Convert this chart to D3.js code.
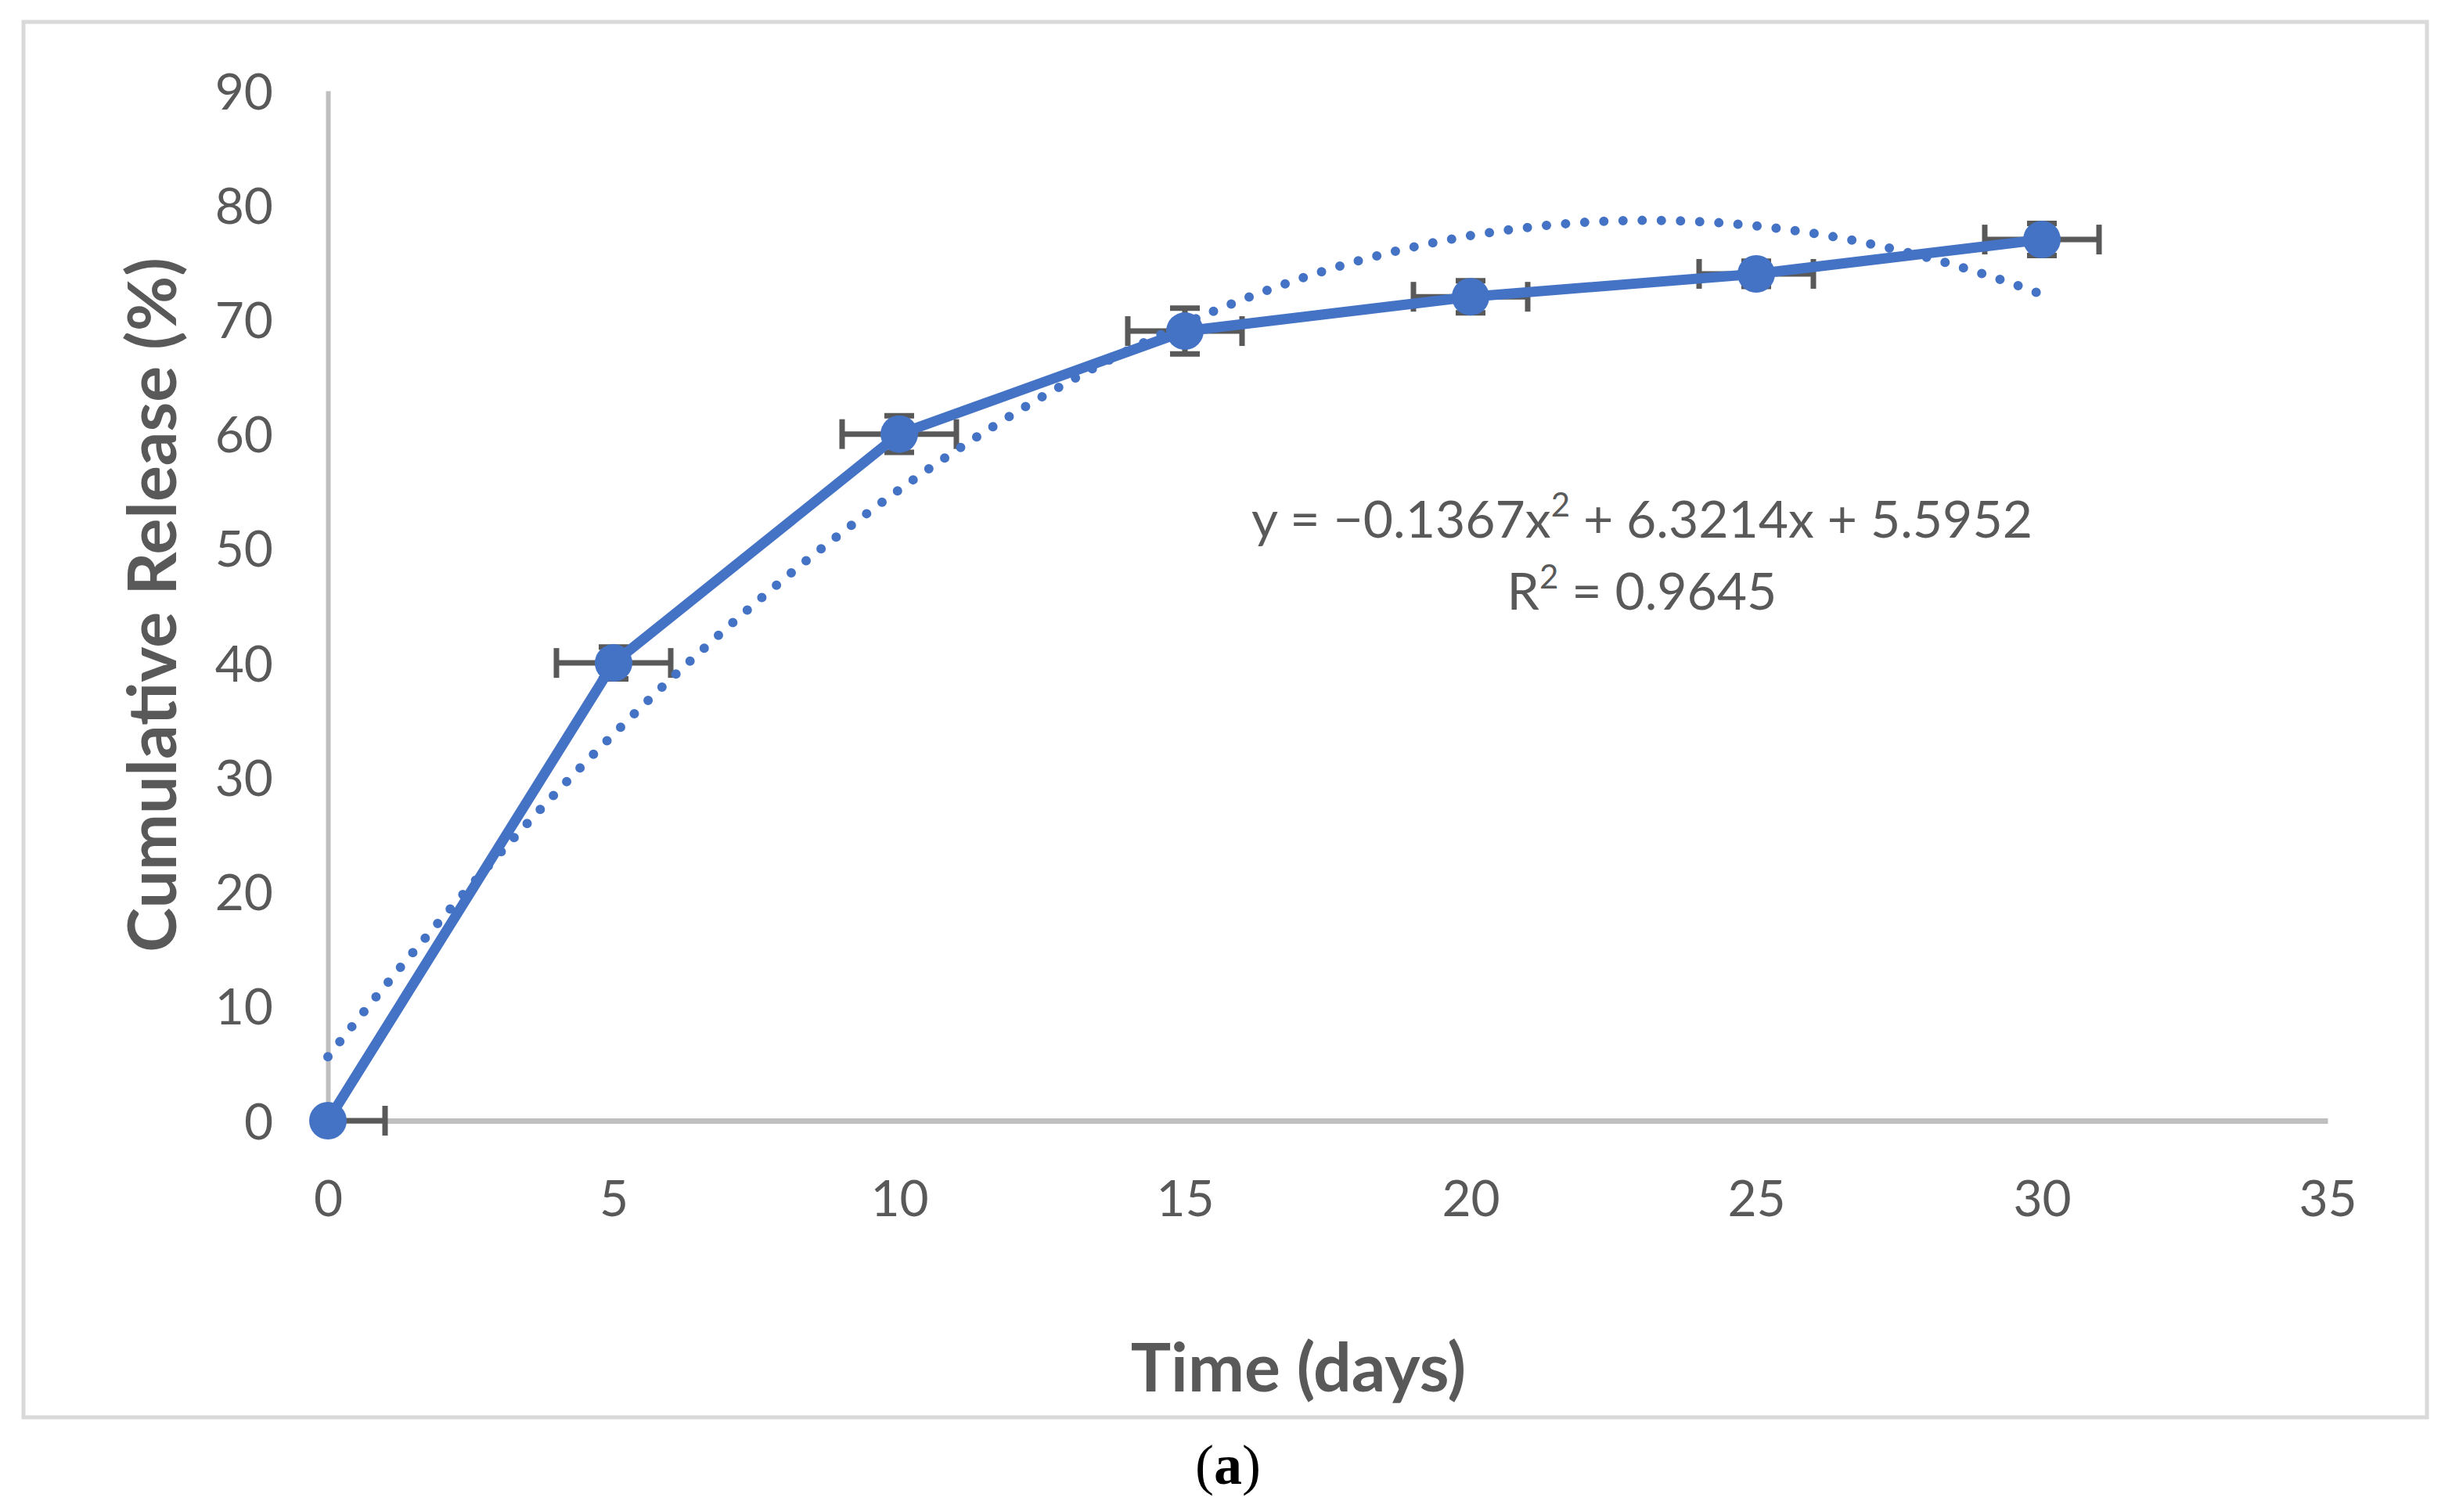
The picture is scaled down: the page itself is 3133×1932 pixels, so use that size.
<!DOCTYPE html>
<html>
<head>
<meta charset="utf-8">
<script src="https://cdn.jsdelivr.net/npm/d3@7"></script>
<style>
  html, body { margin: 0; padding: 0; background: #fff; }
  svg { display: block; }
</style>
</head>
<body>
<svg id="chart" width="3133" height="1932"></svg>
<script>
// release data (days, cumulative %)
const days = [0, 5, 10, 15, 20, 25, 30];
const release = [0, 40, 60, 69, 72, 74, 77];
const xErr = [1, 1, 1, 1, 1, 1, 1];
const yErr = [0, 1.4, 1.6, 2.0, 1.4, 1.1, 1.4];

// polynomial trendline coefficients (a2, a1, a0) as printed on the chart
const trendCoef = [-0.1367, 6.3214, 5.5952];
const trendLabel = ["y = \u22120.1367x", "2", " + 6.3214x + 5.5952"];
const r2Label = "0.9645";

const xTicks = [0, 5, 10, 15, 20, 25, 30, 35];
const yTicks = [0, 10, 20, 30, 40, 50, 60, 70, 80, 90];

const BLUE = "#4472C4";
const GREY_TEXT = "#595959";
const AXIS = "#BFBFBF";
const FONT = "Lato, 'Open Sans', sans-serif";

const svg = d3.select("#chart");

svg.append("rect")
  .attr("x", 30).attr("y", 28)
  .attr("width", 3071).attr("height", 1783)
  .attr("fill", "#fff")
  .attr("stroke", "#D9D9D9")
  .attr("stroke-width", 5);

const x = d3.scaleLinear().domain([0, 35]).range([419, 2974]);
const y = d3.scaleLinear().domain([0, 90]).range([1432, 116]);

// axes
const xAxis = svg.append("g")
  .attr("transform", `translate(0,${y(0)})`)
  .call(d3.axisBottom(x).tickValues(xTicks).tickSize(0).tickSizeOuter(0));
xAxis.select(".domain").attr("stroke", AXIS).attr("stroke-width", 7);
xAxis.selectAll("text")
  .attr("y", 122).attr("dy", 0)
  .attr("fill", GREY_TEXT)
  .style("font-family", FONT).style("font-size", "64px");

const yAxis = svg.append("g")
  .attr("transform", `translate(${x(0)},0)`)
  .call(d3.axisLeft(y).tickValues(yTicks).tickSize(0).tickSizeOuter(0));
yAxis.select(".domain").attr("stroke", AXIS).attr("stroke-width", 6);
yAxis.selectAll("text")
  .attr("x", -70).attr("dy", "0.36em")
  .attr("fill", GREY_TEXT)
  .style("font-family", FONT).style("font-size", "64px");

const pts = days.map((d, i) => ({ x: d, y: release[i], ex: xErr[i], ey: yErr[i] }));

// error bars
const capHalf = 19;
const eb = svg.append("g")
  .attr("stroke", GREY_TEXT)
  .attr("stroke-width", 7)
  .attr("fill", "none");

pts.forEach((p) => {
  const x0 = Math.max(0, p.x - p.ex);
  const x1 = p.x + p.ex;
  eb.append("line")
    .attr("x1", x(x0)).attr("x2", x(x1))
    .attr("y1", y(p.y)).attr("y2", y(p.y));
  if (p.x - p.ex >= 0) {
    eb.append("line")
      .attr("x1", x(x0)).attr("x2", x(x0))
      .attr("y1", y(p.y) - capHalf).attr("y2", y(p.y) + capHalf);
  }
  eb.append("line")
    .attr("x1", x(x1)).attr("x2", x(x1))
    .attr("y1", y(p.y) - capHalf).attr("y2", y(p.y) + capHalf);
  if (p.ey > 0) {
    eb.append("line")
      .attr("x1", x(p.x)).attr("x2", x(p.x))
      .attr("y1", y(p.y - p.ey)).attr("y2", y(p.y + p.ey));
    [p.y - p.ey, p.y + p.ey].forEach((v) => {
      eb.append("line")
        .attr("x1", x(p.x) - capHalf).attr("x2", x(p.x) + capHalf)
        .attr("y1", y(v)).attr("y2", y(v));
    });
  }
});

// series line
const line = d3.line().x((d) => x(d.x)).y((d) => y(d.y));
svg.append("path")
  .datum(pts)
  .attr("d", line)
  .attr("fill", "none")
  .attr("stroke", BLUE)
  .attr("stroke-width", 13)
  .attr("stroke-linejoin", "round");

// dotted polynomial trendline
const poly = (t) => trendCoef[0] * t * t + trendCoef[1] * t + trendCoef[2];
const trendPts = d3.range(0, 30.001, 0.25).map((t) => ({ x: t, y: poly(t) }));
svg.append("path")
  .datum(trendPts)
  .attr("d", line)
  .attr("fill", "none")
  .attr("stroke", BLUE)
  .attr("stroke-width", 12)
  .attr("stroke-linecap", "round")
  .attr("stroke-dasharray", "0 24.5");

// markers
svg.append("g")
  .selectAll("circle")
  .data(pts)
  .join("circle")
  .attr("cx", (d) => x(d.x))
  .attr("cy", (d) => y(d.y))
  .attr("r", 24)
  .attr("fill", BLUE);

// trendline label
const eq = svg.append("text")
  .attr("x", 2098).attr("y", 687)
  .attr("text-anchor", "middle")
  .attr("fill", GREY_TEXT)
  .style("font-family", FONT).style("font-size", "66px");
eq.append("tspan").text(trendLabel[0]);
eq.append("tspan").attr("dy", -27).style("font-size", "42px").text(trendLabel[1]);
eq.append("tspan").attr("dy", 27).text(trendLabel[2]);

const r2 = svg.append("text")
  .attr("x", 2098).attr("y", 779)
  .attr("text-anchor", "middle")
  .attr("fill", GREY_TEXT)
  .style("font-family", FONT).style("font-size", "66px");
r2.append("tspan").text("R");
r2.append("tspan").attr("dy", -27).style("font-size", "42px").text("2");
r2.append("tspan").attr("dy", 27).text(" = " + r2Label);

// axis titles
svg.append("text")
  .attr("transform", "translate(225,773) rotate(-90)")
  .attr("text-anchor", "middle")
  .attr("fill", GREY_TEXT)
  .style("font-family", FONT).style("font-size", "86px").style("font-weight", "bold")
  .text("Cumulative Release (%)");

svg.append("text")
  .attr("x", 1659).attr("y", 1778)
  .attr("text-anchor", "middle")
  .attr("fill", GREY_TEXT)
  .style("font-family", FONT).style("font-size", "86px").style("font-weight", "bold")
  .text("Time (days)");

// panel caption
const cap = svg.append("text")
  .attr("x", 1569).attr("y", 1896)
  .attr("text-anchor", "middle")
  .attr("fill", "#000")
  .style("font-family", "'Liberation Serif', serif").style("font-size", "72px");
cap.append("tspan").text("(");
cap.append("tspan").style("font-weight", "bold").text("a");
cap.append("tspan").text(")");
</script>
</body>
</html>
